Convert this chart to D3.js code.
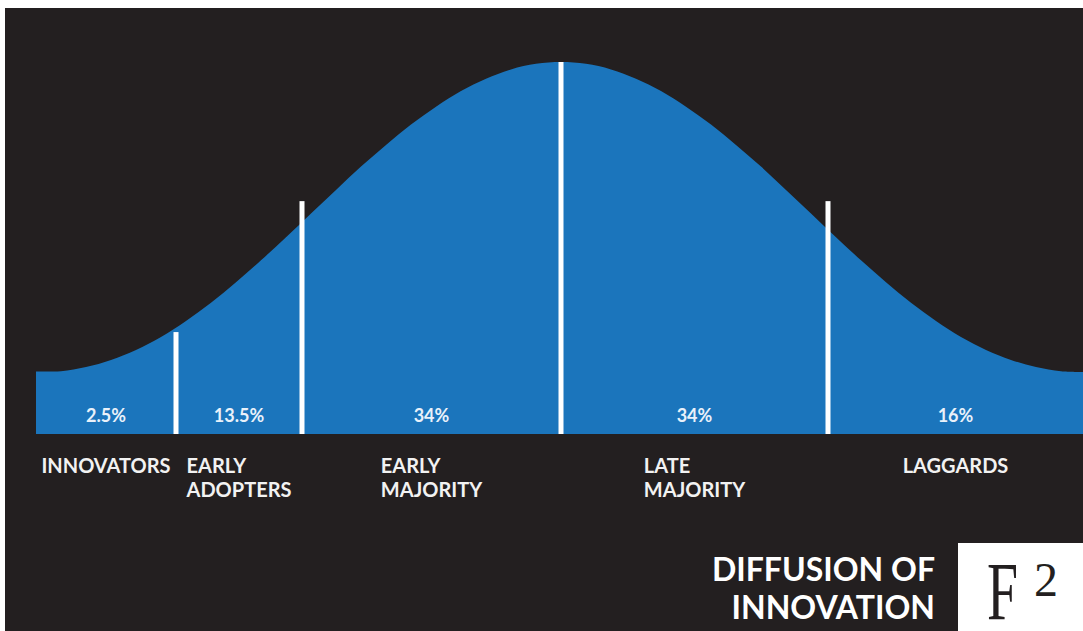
<!DOCTYPE html>
<html>
<head>
<meta charset="utf-8">
<script src="https://cdn.jsdelivr.net/npm/d3@7"></script>
<style>
  html, body { margin: 0; padding: 0; background: #ffffff; }
  svg { display: block; }
</style>
</head>
<body>
<svg id="chart" width="1083" height="631"></svg>
<script>
// Adoption curve: position on the adoption timeline (0 = mean) and relative adoption (peak = 100)
const curveX = [-105, -100, -95, -90, -85, -80, -75, -70, -65, -60, -55, -50, -45, -40, -35, -30, -25, -20, -15, -10, -5, 0,
                5, 10, 15, 20, 25, 30, 35, 40, 45, 50, 55, 60, 65, 70, 75, 80, 85, 90, 95, 100, 104.4];
const curveY = [16.8, 16.9, 18.0, 19.9, 22.6, 26.1, 30.4, 35.3, 40.8, 46.7, 52.9, 59.3, 65.6, 71.9, 77.7, 83.2, 88.0, 92.2, 95.5, 98.0, 99.5, 100,
                99.5, 98.0, 95.5, 92.2, 88.0, 83.2, 77.7, 71.9, 65.6, 59.3, 52.9, 46.7, 40.8, 35.3, 30.4, 26.1, 22.6, 19.9, 18.0, 16.9, 16.7];

// Adopter groups
const groups = ["INNOVATORS", "EARLY ADOPTERS", "EARLY MAJORITY", "LATE MAJORITY", "LAGGARDS"];
const groupLines = [["INNOVATORS"], ["EARLY", "ADOPTERS"], ["EARLY", "MAJORITY"], ["LATE", "MAJORITY"], ["LAGGARDS"]];
const shares = [2.5, 13.5, 34, 34, 16];
const shareLabels = ["2.5%", "13.5%", "34%", "34%", "16%"];

// Group boundaries on the timeline and the height reached by each divider line
const bounds = [-105, -77, -51.8, 0, 53.4, 104.4];
const dividerX = [-77, -51.8, 0, 53.4];
const dividerTop = [27.4, 62.6, 100, 62.6];

const titleLines = ["DIFFUSION OF", "INNOVATION"];

const svg = d3.select("#chart");
const W = 1083, H = 631;

// dark panel
svg.append("rect").attr("x", 5).attr("y", 8).attr("width", W - 5).attr("height", H - 8)
  .attr("fill", "#231f20");

const x = d3.scaleLinear().domain([-105, 104.4]).range([36, 1083]);
const y = d3.scaleLinear().domain([0, 100]).range([434, 62]);

const pts = curveX.map((d, i) => [d, curveY[i]]);

const area = d3.area()
  .x(d => x(d[0]))
  .y0(y(0))
  .y1(d => y(d[1]))
  .curve(d3.curveCatmullRom);

svg.append("path").datum(pts).attr("d", area).attr("fill", "#1b75bc");

// divider lines
svg.append("g").selectAll("rect").data(dividerX).join("rect")
  .attr("x", d => x(d) - 2.5)
  .attr("width", 5)
  .attr("y", (d, i) => y(dividerTop[i]))
  .attr("height", (d, i) => y(0) - y(dividerTop[i]))
  .attr("fill", "#ffffff");

const font = "Lato, 'Open Sans', sans-serif";

// share labels inside each segment
svg.append("g").selectAll("text").data(shares).join("text")
  .attr("x", (d, i) => x((bounds[i] + bounds[i + 1]) / 2))
  .attr("y", 422)
  .attr("text-anchor", "middle")
  .attr("font-family", font)
  .attr("font-weight", 700)
  .attr("font-size", 18)
  .attr("fill", "#e9f1fa")
  .text((d, i) => shareLabels[i]);

// group names, block centred under each segment, lines left-aligned
groups.forEach((g, i) => {
  const cx = x((bounds[i] + bounds[i + 1]) / 2);
  const t = svg.append("text")
    .attr("font-family", font)
    .attr("font-weight", 700)
    .attr("font-size", 20)
    .attr("fill", "#f2f2f2");
  const spans = groupLines[i].map((line, j) =>
    t.append("tspan").attr("y", 473 + j * 24).text(line));
  const wMax = d3.max(spans, s => s.node().getComputedTextLength());
  spans.forEach(s => s.attr("x", cx - wMax / 2));
});

// title
svg.append("g").selectAll("text").data(titleLines).join("text")
  .attr("x", 935)
  .attr("y", (d, i) => 581 + i * 38)
  .attr("text-anchor", "end")
  .attr("font-family", font)
  .attr("font-weight", 700)
  .attr("font-size", 32)
  .attr("fill", "#ffffff")
  .text(d => d);

// logo badge
const logo = svg.append("g");
logo.append("rect").attr("x", 958).attr("y", 543).attr("width", W - 958).attr("height", H - 543)
  .attr("fill", "#ffffff");
logo.append("text")
  .attr("transform", "translate(987,619) scale(0.68,1)")
  .attr("font-family", "'Liberation Serif', 'DejaVu Serif', serif")
  .attr("font-size", 82)
  .attr("fill", "#231f20")
  .text("F");
logo.append("text")
  .attr("x", 1034).attr("y", 596)
  .attr("font-family", "'Liberation Serif', 'DejaVu Serif', serif")
  .attr("font-size", 48)
  .attr("fill", "#231f20")
  .text("2");
</script>
</body>
</html>
